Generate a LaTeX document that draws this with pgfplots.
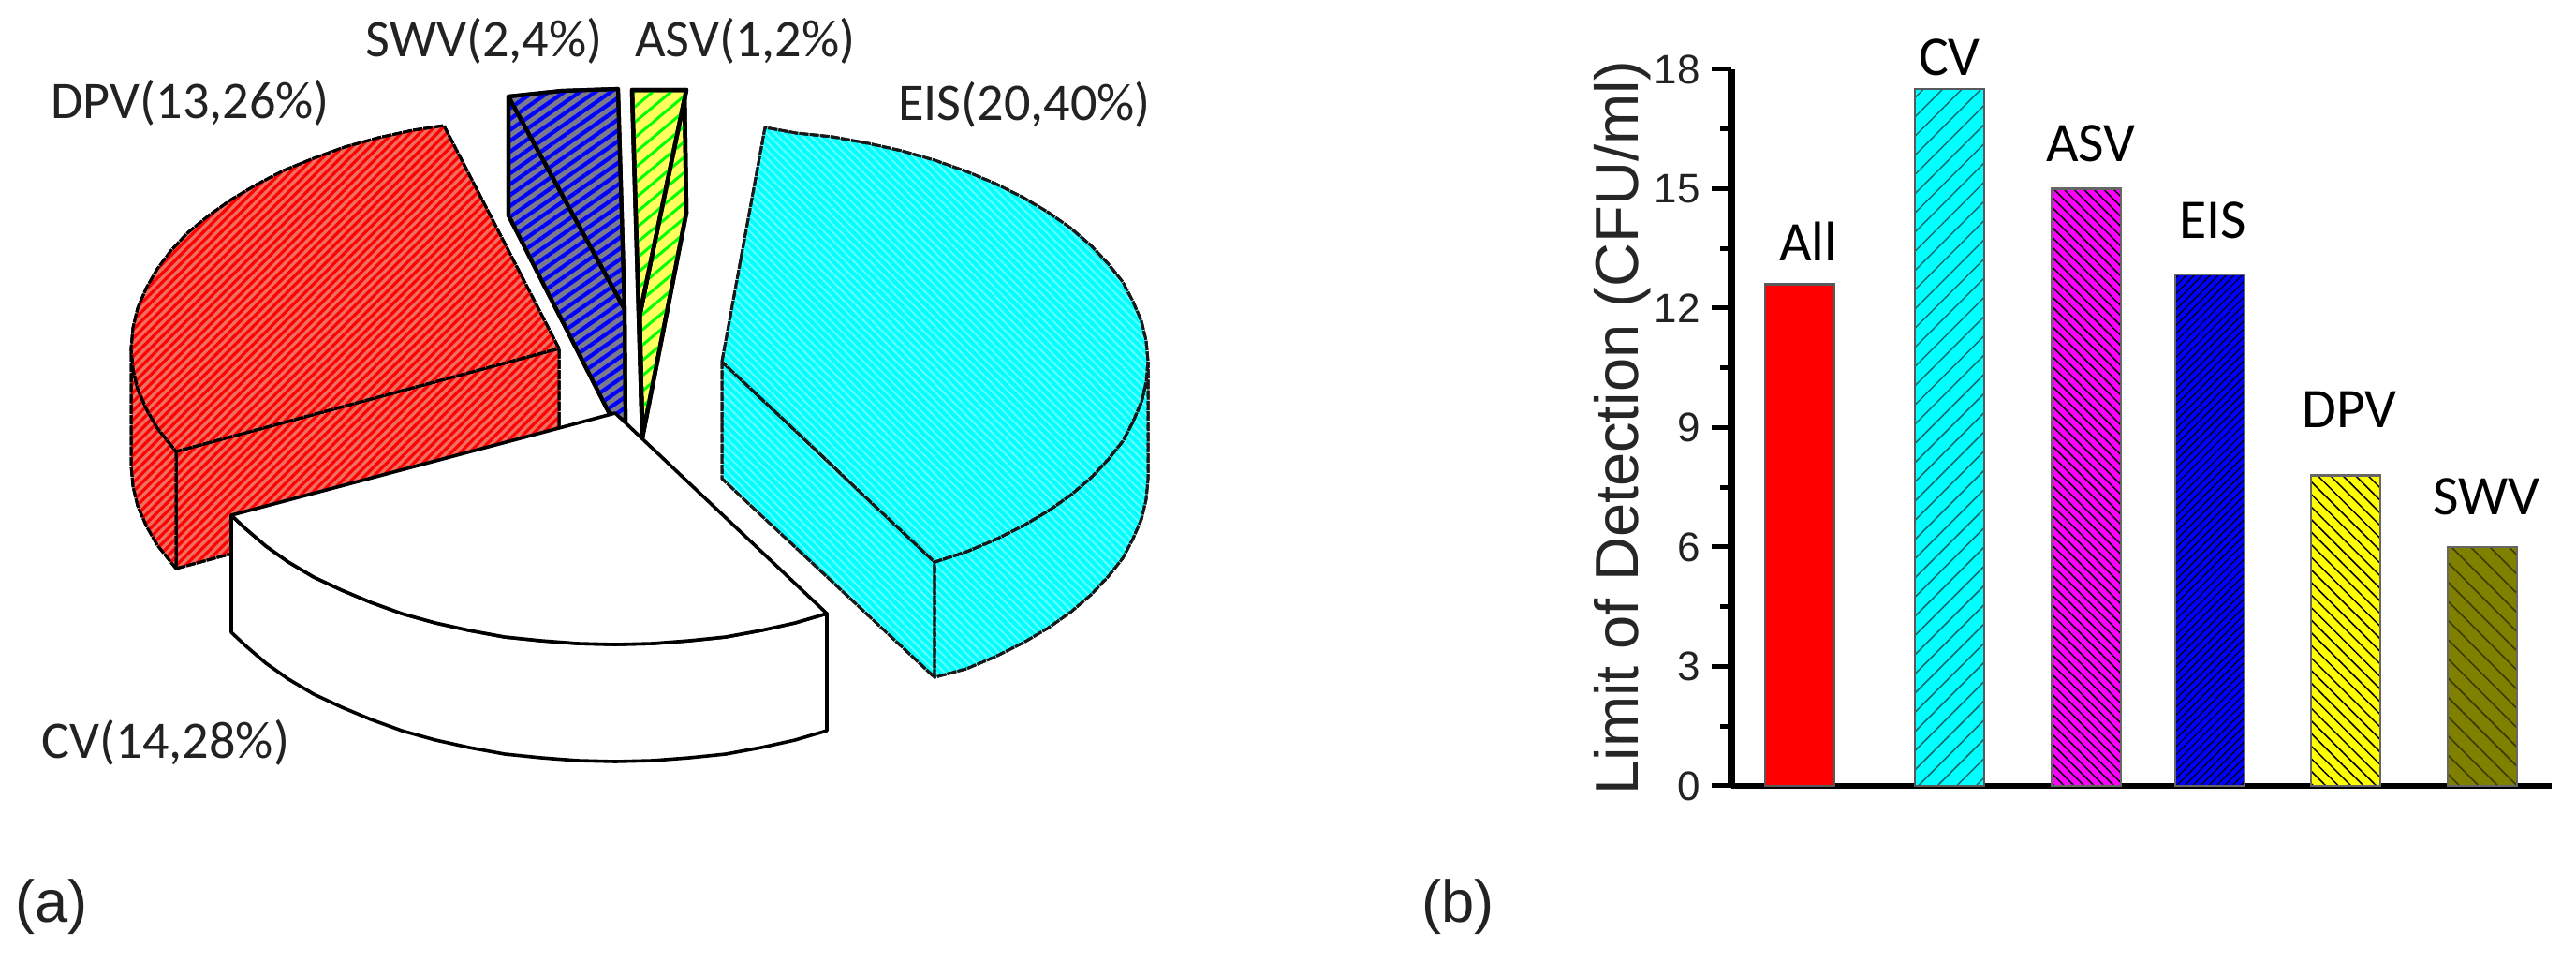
\documentclass[border=0pt]{standalone}
\usepackage{fontspec}
\setmainfont{Liberation Sans}
\newfontfamily\calfont{Carlito}
\usepackage{pgfplots}
\pgfplotsset{compat=1.18}
\usetikzlibrary{patterns.meta}
\definecolor{redbg}{HTML}{EE6E62}
\definecolor{pcyan}{HTML}{00FFFF}
\definecolor{pmag}{HTML}{FF00FF}
\definecolor{pyel}{HTML}{FFFF00}
\definecolor{pblue}{HTML}{0000FF}
\definecolor{pred}{HTML}{FF0000}
\definecolor{polive}{HTML}{808000}
\definecolor{pgreen}{HTML}{00FF00}
\definecolor{cyanln}{HTML}{66FFFF}
\definecolor{cyanht}{HTML}{0A6A6A}
\definecolor{oliveht}{HTML}{3C3C00}
\definecolor{bluebg}{HTML}{7A7A8C}
\definecolor{yelbg}{HTML}{FFFF60}
\definecolor{txt}{HTML}{222222}
\tikzset{
  redp/.style={draw=black,line width=0.3mm,dash pattern=on 1mm off 0.12mm,line join=round,
    pattern={Lines[angle=45,distance=0.68mm,line width=0.32mm]},pattern color=pred,preaction={fill=redbg}},
  cyanp/.style={draw=black!90,line width=0.3mm,dash pattern=on 1mm off 0.12mm,line join=round,
    pattern={Lines[angle=-45,distance=0.62mm,line width=0.2mm]},pattern color=cyanln,preaction={fill=pcyan}},
  bluep/.style={draw=black,line width=0.42mm,line join=round,
    pattern={Lines[angle=35,distance=0.95mm,line width=0.42mm]},pattern color=pblue,preaction={fill=bluebg}},
  yelp/.style={draw=black,line width=0.45mm,line join=round,
    pattern={Lines[angle=40,distance=1.25mm,line width=0.3mm]},pattern color=pgreen,preaction={fill=yelbg}},
  whitep/.style={draw=black,line width=0.36mm,line join=round,fill=white},
  plab/.style={font=\calfont\fontsize{16}{18}\selectfont,text=txt,inner sep=0pt,anchor=center},
  blab/.style={font=\calfont\fontsize{17}{20}\selectfont,text=black,inner sep=0pt,anchor=center},
}
\begin{document}
\begin{tikzpicture}
\useasboundingbox (0,0) rectangle (27.51,10.42);
% ---------- (a): pie drawing, in image pixel coordinates
\begin{axis}[at={(0,0)},anchor=south west,scale only axis,width=27.51cm,height=10.42cm,
  xmin=0,xmax=2751,ymin=0,ymax=1042,y dir=reverse,hide axis,clip=false]
% DPV (red)
\addplot[redp] coordinates {(597,372)(188,482)(188,607)(597,497)} --cycle;
\addplot[redp] coordinates {(140,372)(142,394)(147,415)(156,436)(168,457)(188,482)(188,607)(168,582)(156,561)(147,540)(142,519)(140,497)} --cycle;
\addplot[redp] coordinates {(597,372)(474,134)(441,139)(404,147)(368,157)(335,169)(303,182)(274,197)(247,213)(223,230)(201,248)(183,267)(168,287)(156,308)(147,329)(142,350)(140,372)(142,394)(147,415)(156,436)(168,457)(188,482)} --cycle;
% EIS (cyan)
\addplot[cyanp] coordinates {(771,386)(998,600)(998,723)(771,511)} --cycle;
\addplot[cyanp] coordinates {(1226,386)(1224,408)(1219,429)(1210,450)(1199,471)(1183,491)(1165,510)(1144,528)(1120,545)(1093,561)(1063,576)(1032,589)(998,600)(998,723)(1032,714)(1063,701)(1093,686)(1120,670)(1144,653)(1165,635)(1183,616)(1199,596)(1210,575)(1219,554)(1224,533)(1226,511)} --cycle;
\addplot[cyanp] coordinates {(771,386)(817,136)(850,142)(889,146)(927,153)(963,161)(998,171)(1032,183)(1063,196)(1093,211)(1120,227)(1144,244)(1165,262)(1183,281)(1199,301)(1210,322)(1219,343)(1224,364)(1226,386)(1224,408)(1219,429)(1210,450)(1199,471)(1183,491)(1165,510)(1144,528)(1120,545)(1093,561)(1063,576)(1032,589)(998,600)} --cycle;
% SWV (blue)
\addplot[bluep] coordinates {(543,103)(667,330)(668,450)(650,440)(543,230)} --cycle;
\addplot[bluep] coordinates {(543,103)(600,97)(660,95)(667,330)} --cycle;
% ASV (yellow)
\addplot[yelp] coordinates {(731,100)(683,337)(686,467)(733,227)} --cycle;
\addplot[yelp] coordinates {(675,96)(733,96)(683,337)(686,467)} --cycle;
% CV (white)
\addplot[whitep] coordinates {(247,550)(263,565)(284,583)(308,600)(335,616)(365,630)(396,643)(429,655)(465,665)(501,673)(539,680)(578,684)(617,687)(657,688)(697,687)(736,684)(775,680)(813,673)(849,665)(883,655)(883,780)(849,790)(813,798)(775,805)(736,809)(697,812)(657,813)(617,812)(578,809)(539,805)(501,798)(465,790)(429,780)(396,768)(365,755)(335,741)(308,725)(284,708)(263,690)(247,675)} --cycle;
\addplot[whitep] coordinates {(657,441)(247,550)(263,565)(284,583)(308,600)(335,616)(365,630)(396,643)(429,655)(465,665)(501,673)(539,680)(578,684)(617,687)(657,688)(697,687)(736,684)(775,680)(813,673)(849,665)(883,655)} --cycle;
% texts
\node[plab] at (axis cs:203,110) {DPV(13,26\%)};
\node[plab] at (axis cs:517,44) {SWV(2,4\%)};
\node[plab] at (axis cs:796,44) {ASV(1,2\%)};
\node[plab] at (axis cs:1094,112) {EIS(20,40\%)};
\node[plab] at (axis cs:177,793) {CV(14,28\%)};
\node[font=\fontsize{18}{20}\selectfont,text=txt,inner sep=0pt] at (axis cs:55,968) {(a)};
\node[font=\fontsize{18}{20}\selectfont,text=txt,inner sep=0pt] at (axis cs:1557,968) {(b)};
\end{axis}
% ---------- (b): bars
\begin{axis}[at={(18.49cm,2.03cm)},anchor=south west,scale only axis,width=8.76cm,height=7.65cm,
  xmin=1849,xmax=2725,ymin=0,ymax=18,clip=false,
  axis x line=bottom,axis y line=left,
  x axis line style={-,line width=0.6mm,black},y axis line style={-,line width=0.72mm,black},
  xtick=\empty,ytick={0,3,6,9,12,15,18},minor y tick num=1,
  tick align=outside,major tick length=2.1mm,minor tick length=1.2mm,
  every tick/.style={black,line width=0.5mm},
  tick label style={/pgf/number format/assume math mode=true,font=\fontsize{12.5}{14}\selectfont,text=txt},
  ylabel={Limit of Detection (CFU/ml)},
  ylabel style={at={(axis description cs:-0.133,0.5)},anchor=center,font=\fontsize{18.5}{20}\selectfont,text=black!85},
  ybar,bar width=7.4mm,
  bar shift=0pt]
\addplot[draw=black!65,line width=0.25mm,fill=pred] coordinates {(1922,12.6)};
\addplot[draw=black!65,line width=0.25mm,pattern={Lines[angle=45,distance=1.45mm,line width=0.15mm]},pattern color=cyanht,preaction={fill=pcyan}] coordinates {(2082,17.5)};
\addplot[draw=black!60,line width=0.25mm,pattern={Lines[angle=-45,distance=0.75mm,line width=0.15mm]},pattern color=black,preaction={fill=pmag}] coordinates {(2228,15)};
\addplot[draw=black!60,line width=0.25mm,pattern={Lines[angle=45,distance=0.6mm,line width=0.12mm]},pattern color=black,preaction={fill=pblue}] coordinates {(2360,12.85)};
\addplot[draw=black!60,line width=0.25mm,pattern={Lines[angle=-45,distance=0.95mm,line width=0.15mm]},pattern color=black,preaction={fill=pyel}] coordinates {(2505,7.8)};
\addplot[draw=black!60,line width=0.25mm,pattern={Lines[angle=-45,distance=1.45mm,line width=0.16mm]},pattern color=oliveht,preaction={fill=polive}] coordinates {(2651,6)};
\node[blab] at (axis cs:1931,13.67) {All};
\node[blab] at (axis cs:2082,18.3) {CV};
\node[blab] at (axis cs:2233,16.14) {ASV};
\node[blab] at (axis cs:2363,14.2) {EIS};
\node[blab] at (axis cs:2509,9.45) {DPV};
\node[blab] at (axis cs:2655,7.26) {SWV};
\end{axis}
\end{tikzpicture}
\end{document}
